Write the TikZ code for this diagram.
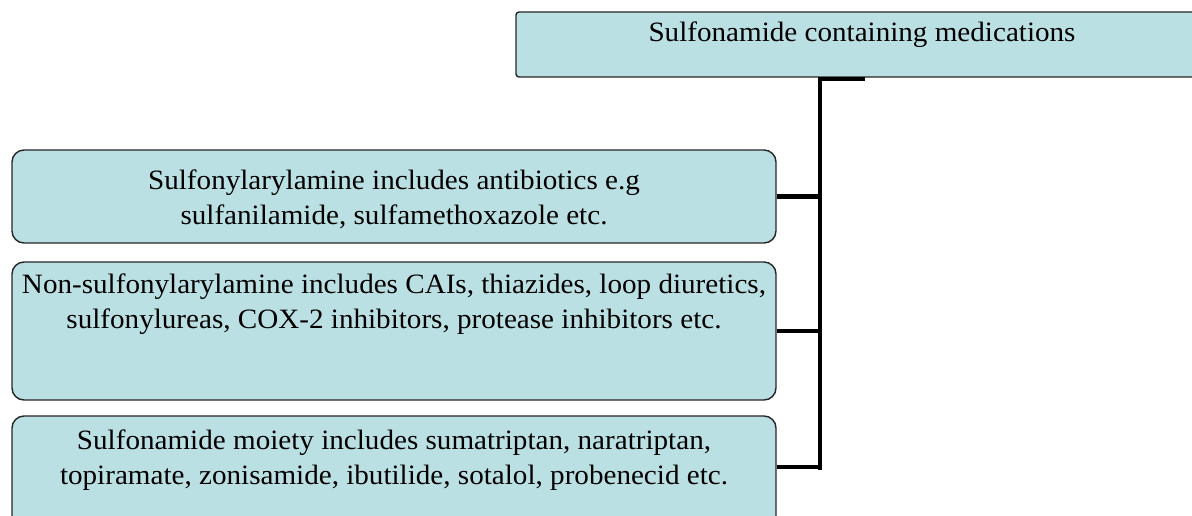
\documentclass[tikz,border=0pt]{standalone}
\usepackage{fontspec}
\setmainfont[FakeStretch=1.04]{Liberation Serif}
\begin{document}
\begin{tikzpicture}[x=1pt,y=-1pt,
  box/.style={draw=black!85,line width=1.4pt,fill=boxfill,inner sep=0pt},
  lbl/.style={align=center,font=\fontsize{28}{35}\selectfont,inner sep=0pt},
  conn/.style={draw=black,line width=4.5pt}]
\definecolor{boxfill}{RGB}{187,224,227}
\useasboundingbox (0,0) rectangle (1192,515);
\clip (0,0) rectangle (1192,515);
\node[box,rounded corners=3pt,minimum width=714pt,minimum height=65pt] (top) at (873,44.5) {};
\node[lbl] (t0) at (862,35) {Sulfonamide containing medications};
\node[box,rounded corners=12pt,minimum width=764pt,minimum height=93pt] (b1) at (394,196.5) {};
\node[lbl] (t1) at (394,199) {Sulfonylarylamine includes antibiotics e.g\\sulfanilamide, sulfamethoxazole etc.};
\node[box,rounded corners=12pt,minimum width=764pt,minimum height=138pt] (b2) at (394,331) {};
\node[lbl] (t2) at (394,304) {Non-sulfonylarylamine includes CAIs, thiazides, loop diuretics,\\sulfonylureas, COX-2 inhibitors, protease inhibitors etc.};
\node[box,rounded corners=12pt,minimum width=764pt,minimum height=124pt] (b3) at (394,478) {};
\node[lbl] (t3) at (394,460) {Sulfonamide moiety includes sumatriptan, naratriptan,\\topiramate, zonisamide, ibutilide, sotalol, probenecid etc.};
\coordinate (s0) at (865,79);
\coordinate (s1) at (820,79);
\coordinate (s2) at (820,470);
\draw[conn] (s0) -- (s1) -- (s2);
\draw[conn] (b1.east) -- (b1.east -| s1);
\draw[conn] (b2.east) -- (b2.east -| s1);
\draw[conn] (b3.east |- 0,467) -- (s1 |- 0,467);
\end{tikzpicture}
\end{document}
